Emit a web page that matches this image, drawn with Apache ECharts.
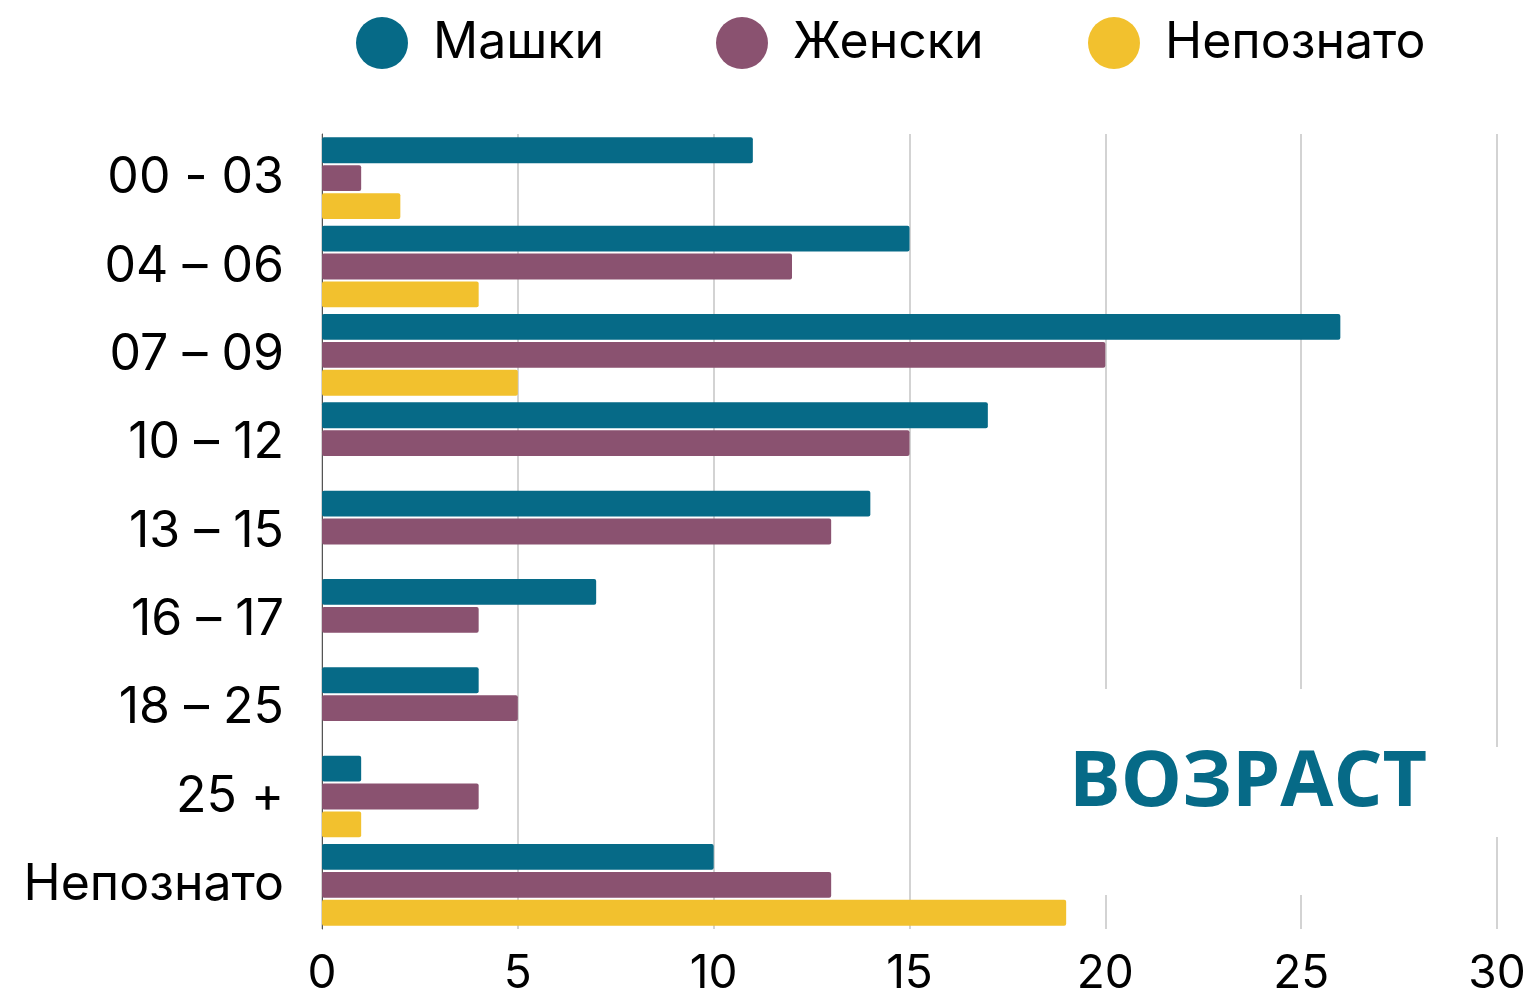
<!DOCTYPE html>
<html>
<head>
<meta charset="utf-8">
<script src="https://cdn.jsdelivr.net/npm/echarts@6/dist/echarts.min.js"></script>
<style>
    html, body { margin: 0; padding: 0; background: #fff; }
    #chart { width: 1533px; height: 997px; }
</style>
</head>
<body>
<div id="chart"></div>
<script>
const categories = ['00 - 03', '04 – 06', '07 – 09', '10 – 12', '13 – 15', '16 – 17', '18 – 25', '25 +', 'Непознато'];
const seriesNames = ['Машки', 'Женски', 'Непознато'];
const male = [11, 15, 26, 17, 14, 7, 4, 1, 10];
const female = [1, 12, 20, 15, 13, 4, 5, 4, 13];
const unknown = [2, 4, 5, 0, 0, 0, 0, 1, 19];
const colors = ['#066a87', '#8a5270', '#f2c12e'];

const font = 'Inter, "Noto Sans", sans-serif';
const chart = echarts.init(document.getElementById('chart'));

function legendAt(name, left) {
    return {
        data: [name],
        left: left,
        top: 17,
        padding: 0,
        icon: 'circle',
        itemWidth: 52,
        itemHeight: 52,
        selectedMode: false,
        textStyle: { fontFamily: font, fontSize: 50, color: '#000', padding: [4, 0, 0, 20] }
    };
}

const option = {
    animation: false,
    color: colors,
    legend: [legendAt('Машки', 356), legendAt('Женски', 716), legendAt('Непознато', 1088)],
    grid: { left: 322, right: 36, top: 134, bottom: 66 },
    xAxis: {
        type: 'value',
        min: 0,
        max: 30,
        interval: 5,
        axisLine: { show: false },
        axisTick: { show: false },
        axisLabel: { fontFamily: font, fontSize: 46, color: '#000', margin: 22 },
        splitLine: { lineStyle: { color: '#c4c4c4', width: 1.5 } }
    },
    yAxis: {
        type: 'category',
        data: categories,
        inverse: true,
        axisLine: { show: true, lineStyle: { color: '#555', width: 1 } },
        axisTick: { show: false },
        axisLabel: { fontFamily: font, fontSize: 50, color: '#000', margin: 38, padding: [7, 0, 0, 0] }
    },
    graphic: [
        // white patches behind the title hide the grid lines there
        { type: 'rect', z: 1, shape: { x: 1070, y: 689, width: 250, height: 206 }, style: { fill: '#fff' } },
        { type: 'rect', z: 1, shape: { x: 1320, y: 747, width: 213, height: 90 }, style: { fill: '#fff' } },
        {
            type: 'text', z: 10, left: 1069, top: 746,
            style: { text: 'ВОЗРАСТ', fill: '#066a87', font: 'bold 77px "Open Sans", sans-serif' }
        }
    ],
    series: [
        { name: seriesNames[0], type: 'bar', data: male, barGap: '8%', barCategoryGap: '7.5%', itemStyle: { borderRadius: 2 }, z: 3 },
        { name: seriesNames[1], type: 'bar', data: female, itemStyle: { borderRadius: 2 }, z: 3 },
        { name: seriesNames[2], type: 'bar', data: unknown, itemStyle: { borderRadius: 2 }, z: 3 }
    ]
};

chart.setOption(option);
</script>
</body>
</html>
